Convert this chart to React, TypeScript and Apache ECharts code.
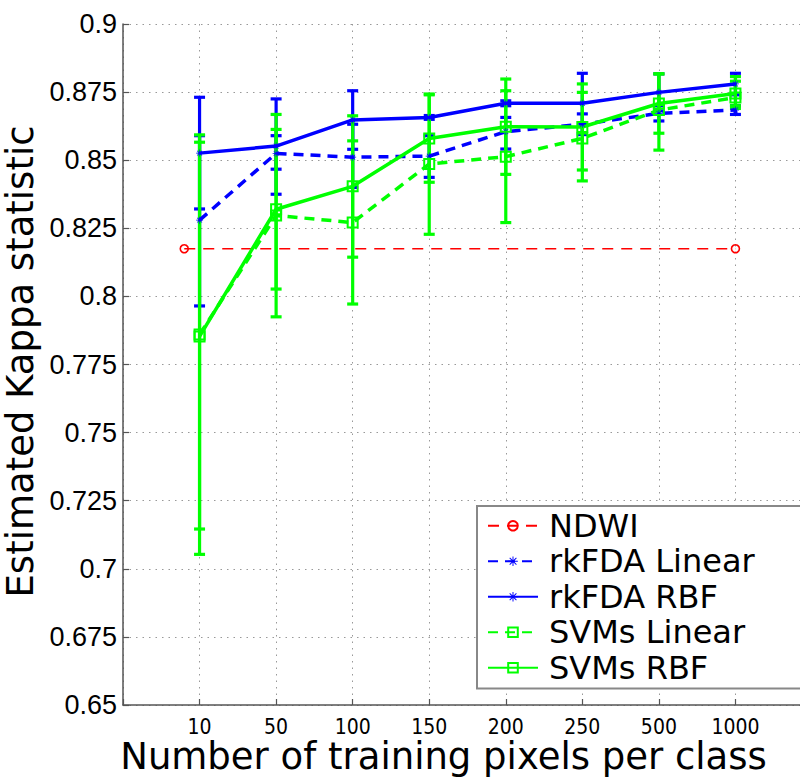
import React, { useEffect, useRef } from "react";
import * as echarts from "echarts";

const categories = ["10", "50", "100", "150", "200", "250", "500", "1000"];
const positions = [1, 2, 3, 4, 5, 6, 7, 8];

const ndwiX = [0.8, 8];
const ndwiValue = [0.8175, 0.8175];

const rkfdaLinMean = [0.828, 0.8525, 0.8511, 0.8515, 0.8605, 0.8632, 0.8672, 0.8684];
const rkfdaLinLow = [0.7965, 0.8467, 0.84, 0.8437, 0.8541, 0.8594, 0.8644, 0.8668];
const rkfdaLinHigh = [0.859, 0.859, 0.8632, 0.859, 0.8657, 0.867, 0.87, 0.87];

const rkfdaRbfMean = [0.8526, 0.8552, 0.8648, 0.8657, 0.8709, 0.8709, 0.8749, 0.878];
const rkfdaRbfLow = [0.8321, 0.8375, 0.854, 0.865, 0.87, 0.8599, 0.8681, 0.874];
const rkfdaRbfHigh = [0.8731, 0.8725, 0.8755, 0.8664, 0.8718, 0.8819, 0.8817, 0.8819];

const svmLinMean = [0.786, 0.8297, 0.8271, 0.8486, 0.8513, 0.858, 0.8684, 0.873];
const svmLinLow = [0.7053, 0.7925, 0.7972, 0.8228, 0.8271, 0.8424, 0.8537, 0.869];
const svmLinHigh = [0.8593, 0.8668, 0.8571, 0.8743, 0.8755, 0.8749, 0.8817, 0.879];

const svmRbfMean = [0.7853, 0.832, 0.8404, 0.858, 0.8623, 0.8622, 0.8708, 0.8745];
const svmRbfLow = [0.7146, 0.8027, 0.8144, 0.8419, 0.8448, 0.8464, 0.8599, 0.87];
const svmRbfHigh = [0.8566, 0.8613, 0.8663, 0.874, 0.8798, 0.878, 0.8817, 0.8807];

const BLUE = "#0000ff";
const GREEN = "#00ff00";
const RED = "#ff0000";

const starSymbol =
  "path://M0,4.5h10v1h-10z M4.5,0h1v10h-1z M1.2,1.9l0.7,-0.7l7,7l-0.7,0.7z M1.2,8.1l7,-7l0.7,0.7l-7,7z";

function errorSeries(name: string, low: number[], high: number[], color: string) {
  return {
    type: "custom",
    name: name + "_err",
    data: positions.map((p, i) => [p, low[i], high[i]]),
    encode: { x: 0, y: [1, 2] },
    silent: true,
    renderItem: (_params: any, api: any) => {
      const x = api.value(0);
      const pLo = api.coord([x, api.value(1)]);
      const pHi = api.coord([x, api.value(2)]);
      const hw = 5.5;
      const style = { stroke: color, lineWidth: 3.2, fill: "none" };
      return {
        type: "group",
        children: [
          { type: "line", shape: { x1: pLo[0], y1: pLo[1], x2: pHi[0], y2: pHi[1] }, style },
          { type: "line", shape: { x1: pLo[0] - hw, y1: pLo[1], x2: pLo[0] + hw, y2: pLo[1] }, style },
          { type: "line", shape: { x1: pHi[0] - hw, y1: pHi[1], x2: pHi[0] + hw, y2: pHi[1] }, style },
        ],
      };
    },
  };
}

function lineSeries(
  name: string,
  values: number[],
  color: string,
  dashed: boolean,
  symbol: string,
  symbolSize: number,
  filled: boolean
) {
  return {
    type: "line",
    name,
    data: positions.map((p, i) => [p, values[i]]),
    symbol,
    symbolSize,
    showAllSymbol: true,
    lineStyle: { color, width: 3.5, type: dashed ? [10, 7] : "solid" },
    itemStyle: filled
      ? { color, borderColor: color, borderWidth: 0 }
      : { color: "rgba(0,0,0,0)", borderColor: color, borderWidth: 2 },
  };
}

export default function App() {
  const ref = useRef<HTMLDivElement>(null);

  useEffect(() => {
    document.body.style.margin = "0";
    if (!ref.current) return;
    const chart = echarts.init(ref.current, undefined, { renderer: "svg" });

    const option: any = {
      animation: false,
      backgroundColor: "#ffffff",
      grid: {
        left: 123,
        top: 24,
        width: 689,
        height: 681,
        containLabel: false,
        outerBoundsMode: "none",
      },
      xAxis: {
        type: "value",
        min: 0,
        max: 9,
        interval: 1,
        name: "Number of training pixels per class",
        nameLocation: "middle",
        nameGap: 33,
        nameMoveOverlap: false,
        nameTextStyle: {
          fontFamily: "DejaVu Sans",
          fontSize: 37,
          lineHeight: 36,
          color: "#000",
          padding: [0, 48, 0, 0],
        },
        axisLine: { show: true, lineStyle: { color: "#555", width: 1.5 } },
        axisTick: { show: true, inside: true, length: 6, lineStyle: { color: "#555", width: 1.2 } },
        axisLabel: {
          show: true,
          margin: 12,
          fontFamily: "DejaVu Sans Condensed, DejaVu Sans",
          fontSize: 21,
          lineHeight: 20,
          color: "#000",
          formatter: (v: number) => (v >= 1 && v <= 8 ? categories[v - 1] : ""),
        },
        splitLine: { show: true, lineStyle: { color: "#999", width: 1, type: [1.5, 5] } },
      },
      yAxis: {
        type: "value",
        min: 0.65,
        max: 0.9,
        interval: 0.025,
        name: "Estimated Kappa statistic",
        nameLocation: "middle",
        nameGap: 68,
        nameTextStyle: {
          fontFamily: "DejaVu Sans",
          fontSize: 37,
          color: "#000",
          padding: [0, 0, 0, 6],
        },
        axisLine: { show: true, lineStyle: { color: "#555", width: 1.5 } },
        axisTick: { show: true, inside: true, length: 6, lineStyle: { color: "#555", width: 1.2 } },
        axisLabel: {
          margin: 6,
          fontFamily: "Liberation Sans, Arial",
          fontSize: 27,
          color: "#000",
          formatter: (v: number) => String(+v.toFixed(3)),
        },
        splitLine: { show: true, lineStyle: { color: "#999", width: 1, type: [1.5, 5] } },
      },
      legend: {
        data: ["NDWI", "rkFDA Linear", "rkFDA RBF", "SVMs Linear", "SVMs RBF"],
        orient: "vertical",
        left: 477,
        top: 506,
        padding: [2, 80, 3, 10],
        itemGap: 0,
        itemWidth: 50,
        itemHeight: 12,
        backgroundColor: "#ffffff",
        borderColor: "#888",
        borderWidth: 2,
        borderRadius: 0,
        textStyle: {
          fontFamily: "DejaVu Sans",
          fontSize: 32,
          color: "#000",
          lineHeight: 35.5,
          padding: [0, 0, 0, 6],
        },
      },
      series: [
        {
          type: "line",
          name: "NDWI",
          data: ndwiX.map((x, i) => [x, ndwiValue[i]]),
          symbol: "circle",
          symbolSize: 8,
          showSymbol: true,
          lineStyle: { color: RED, width: 1.6, type: [11, 8] },
          itemStyle: { color: "rgba(0,0,0,0)", borderColor: RED, borderWidth: 1.6 },
        },
        errorSeries("rkFDA Linear", rkfdaLinLow, rkfdaLinHigh, BLUE),
        lineSeries("rkFDA Linear", rkfdaLinMean, BLUE, true, starSymbol, 7, true),
        errorSeries("rkFDA RBF", rkfdaRbfLow, rkfdaRbfHigh, BLUE),
        lineSeries("rkFDA RBF", rkfdaRbfMean, BLUE, false, starSymbol, 7, true),
        errorSeries("SVMs Linear", svmLinLow, svmLinHigh, GREEN),
        lineSeries("SVMs Linear", svmLinMean, GREEN, true, "rect", 10, false),
        errorSeries("SVMs RBF", svmRbfLow, svmRbfHigh, GREEN),
        lineSeries("SVMs RBF", svmRbfMean, GREEN, false, "rect", 10, false),
      ],
    };

    chart.setOption(option);
    return () => {
      chart.dispose();
    };
  }, []);

  return <div ref={ref} style={{ width: 800, height: 778 }} />;
}
